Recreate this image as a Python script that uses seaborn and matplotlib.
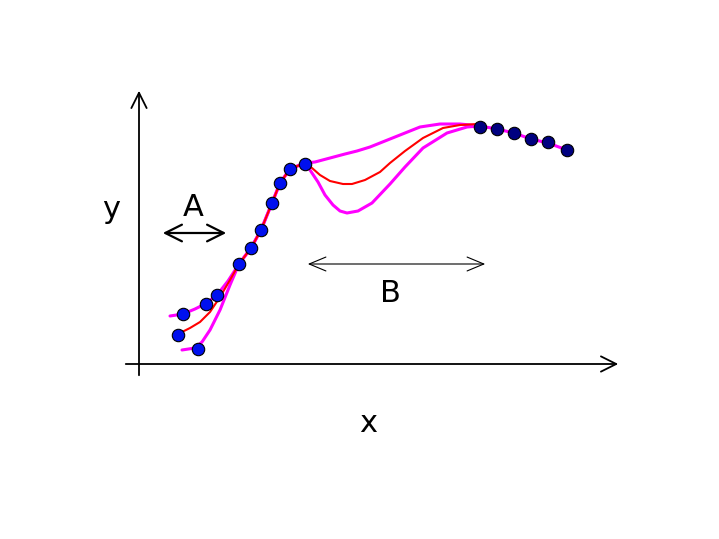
import matplotlib
matplotlib.use("Agg")
import matplotlib.pyplot as plt
import seaborn as sns
import pandas as pd

sns.set_theme(style="white")
plt.rcParams['font.family'] = ['DejaVu Sans']
plt.rcParams['text.color'] = 'black'

# data (drawn in the picture's own x/y units)
common_x = [239, 251, 261, 272, 280, 290, 305]
common_y = [264, 248, 230, 203, 183, 169, 163]

upper_x = [170, 183, 195, 205, 217, 228] + common_x + [315, 330, 345, 357, 370, 385, 400, 420, 440, 460, 480, 497, 514, 531, 548, 567]
upper_y = [316, 314, 309, 304, 295, 281] + common_y + [162, 158, 154, 151, 147, 141, 135, 127, 124, 124, 126, 129, 133, 139, 143, 150]

middle_x = [178, 190, 200, 210, 220, 230] + common_x + [312, 320, 330, 343, 352, 365, 380, 390, 405, 423, 443, 460, 478]
middle_y = [334, 328, 322, 312, 297, 280] + common_y + [168, 175, 181, 184, 184, 180, 172, 163, 151, 138, 128, 125, 124]

lower_x = [182, 195, 202, 210, 220, 230] + common_x + [310, 318, 325, 333, 340, 347, 358, 372, 390, 405, 423, 447, 467, 480]
lower_y = [350, 348, 342, 330, 310, 285] + common_y + [170, 182, 195, 205, 211, 213, 211, 203, 184, 167, 148, 133, 127, 126]

left_pts_x = [178, 183, 198, 206, 217, 239, 251, 261, 272, 280, 290, 305]
left_pts_y = [335, 314, 349, 304, 295, 264, 248, 230, 203, 183, 169, 164]
right_pts_x = [480, 497, 514, 531, 548, 567]
right_pts_y = [127, 129, 133, 139, 142, 150]

labels = ["x", "y", "A", "B"]

fig = plt.figure(figsize=(7.19, 5.39), dpi=100)
ax = fig.add_axes([0, 0, 1, 1])
ax.set_xlim(0, 719)
ax.set_ylim(539, 0)
ax.axis("off")

# axes arrows
ax.annotate("", xy=(139, 88), xytext=(139, 378),
            arrowprops=dict(arrowstyle="->,head_length=0.5,head_width=0.25", color="black", lw=1.3, mutation_scale=22))
ax.annotate("", xy=(621, 364), xytext=(123, 364),
            arrowprops=dict(arrowstyle="->,head_length=0.5,head_width=0.25", color="black", lw=1.3, mutation_scale=22))

# region arrows
ax.annotate("", xy=(229, 233), xytext=(160, 233),
            arrowprops=dict(arrowstyle="<->,head_length=0.6,head_width=0.3", color="black", lw=1.6, mutation_scale=20))
ax.annotate("", xy=(488, 264), xytext=(305, 264),
            arrowprops=dict(arrowstyle="<->,head_length=0.6,head_width=0.25", color="black", lw=0.8, mutation_scale=20))

df_u = pd.DataFrame({"x": upper_x, "y": upper_y})
df_m = pd.DataFrame({"x": middle_x, "y": middle_y})
df_l = pd.DataFrame({"x": lower_x, "y": lower_y})

sns.lineplot(data=df_u, x="x", y="y", sort=False, color="#ff00ff", lw=2.2, ax=ax, estimator=None)
sns.lineplot(data=df_l, x="x", y="y", sort=False, color="#ff00ff", lw=2.2, ax=ax, estimator=None)
sns.lineplot(data=df_m, x="x", y="y", sort=False, color="#ff0000", lw=1.5, ax=ax, estimator=None)

sns.scatterplot(x=left_pts_x, y=left_pts_y, color="#0010ee", s=80, edgecolor="black", linewidth=0.8, ax=ax, zorder=5)
sns.scatterplot(x=right_pts_x, y=right_pts_y, color="#000080", s=80, edgecolor="black", linewidth=0.8, ax=ax, zorder=5)

ax.text(368, 423, labels[0], fontsize=22, ha="center", va="center", color="black")
ax.text(111, 210, labels[1], fontsize=22, ha="center", va="center", color="black")
ax.text(193, 208, labels[2], fontsize=22, ha="center", va="center", color="black")
ax.text(390, 294, labels[3], fontsize=22, ha="center", va="center", color="black")

ax.set_xlabel("")
ax.set_ylabel("")
fig.savefig("out.png", dpi=100)
